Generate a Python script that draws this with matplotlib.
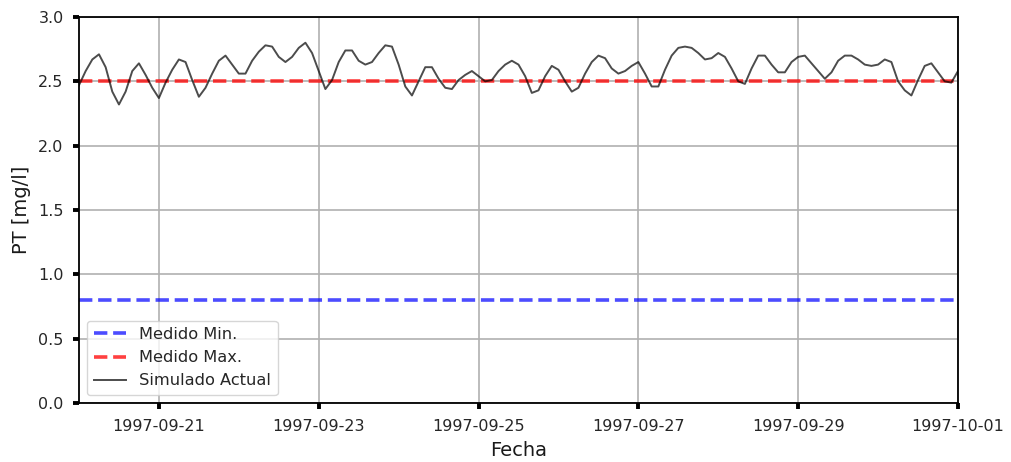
import matplotlib
matplotlib.use("Agg")
import matplotlib.pyplot as plt
import matplotlib.dates as mdates
import numpy as np
import pandas as pd

# Simulated total phosphorus, one value every 2 hours
start = "1997-09-20 00:00"
step = "2h"
simulado_actual = [
    2.47, 2.58, 2.67, 2.71, 2.61, 2.42, 2.32, 2.42, 2.58, 2.64,
    2.55, 2.45, 2.37, 2.49, 2.59, 2.67, 2.65, 2.51, 2.38, 2.45,
    2.56, 2.66, 2.70, 2.63, 2.56, 2.56, 2.66, 2.73, 2.78, 2.77,
    2.69, 2.65, 2.69, 2.76, 2.80, 2.72, 2.58, 2.44, 2.51, 2.65,
    2.74, 2.74, 2.66, 2.63, 2.65, 2.72, 2.78, 2.77, 2.63, 2.46,
    2.39, 2.50, 2.61, 2.61, 2.52, 2.45, 2.44, 2.51, 2.55, 2.58,
    2.54, 2.50, 2.51, 2.58, 2.63, 2.66, 2.63, 2.54, 2.41, 2.43,
    2.54, 2.62, 2.59, 2.50, 2.42, 2.45, 2.56, 2.65, 2.70, 2.68,
    2.60, 2.56, 2.58, 2.62, 2.65, 2.56, 2.46, 2.46, 2.59, 2.70,
    2.76, 2.77, 2.76, 2.72, 2.67, 2.68, 2.72, 2.69, 2.60, 2.50,
    2.48, 2.60, 2.70, 2.70, 2.63, 2.57, 2.57, 2.65, 2.69, 2.70,
    2.64, 2.58, 2.52, 2.57, 2.66, 2.70, 2.70, 2.67, 2.63, 2.62,
    2.63, 2.67, 2.65, 2.50, 2.43, 2.39, 2.51, 2.62, 2.64, 2.57,
    2.50, 2.49, 2.58,
]
medido_min = 0.8
medido_max = 2.5

fechas = pd.date_range(start=start, periods=len(simulado_actual), freq=step)

fig = plt.figure(figsize=(10.11, 4.62), dpi=100)
ax = fig.add_axes([79 / 1011, 1 - 403 / 462, (958 - 79) / 1011, (403 - 17) / 462])

ax.plot(fechas, np.full(len(fechas), medido_min), color="blue", alpha=0.7,
        lw=2.6, ls="--", label="Medido Min.")
ax.plot(fechas, np.full(len(fechas), medido_max), color="red", alpha=0.75,
        lw=2.6, ls="--", label="Medido Max.")
ax.plot(fechas, simulado_actual, color="black", alpha=0.7, lw=1.4,
        label="Simulado Actual")

ax.set_xlim(fechas[0], fechas[-1])
ax.set_ylim(0.0, 3.0)
ax.set_yticks(np.arange(0.0, 3.01, 0.5))
ax.yaxis.set_major_formatter(matplotlib.ticker.FormatStrFormatter("%.1f"))
ax.xaxis.set_major_locator(mdates.DayLocator(bymonthday=[1, 21, 23, 25, 27, 29]))
ax.xaxis.set_major_formatter(mdates.DateFormatter("%Y-%m-%d"))

ax.grid(True, color="#b0b0b0", lw=1.2)
ax.set_axisbelow(True)
ax.tick_params(axis="x", direction="out", length=4.5, width=2.8, color="black",
               labelsize=11.5, pad=7, labelcolor="#262626")
ax.tick_params(axis="y", direction="out", length=4.5, width=2.8, color="black",
               labelsize=11.5, pad=6.5, labelcolor="#262626")
for s in ax.spines.values():
    s.set_linewidth(1.3)
    s.set_color("black")

ax.set_xlabel("Fecha", fontsize=14, labelpad=5, color="#1a1a1a")
ax.set_ylabel("PT [mg/l]", fontsize=14, labelpad=5.5, color="#1a1a1a")
leg = ax.legend(loc="lower left", fontsize=11.7, framealpha=0.8)
for t in leg.get_texts():
    t.set_color("#262626")

fig.savefig("out.png", dpi=100)
